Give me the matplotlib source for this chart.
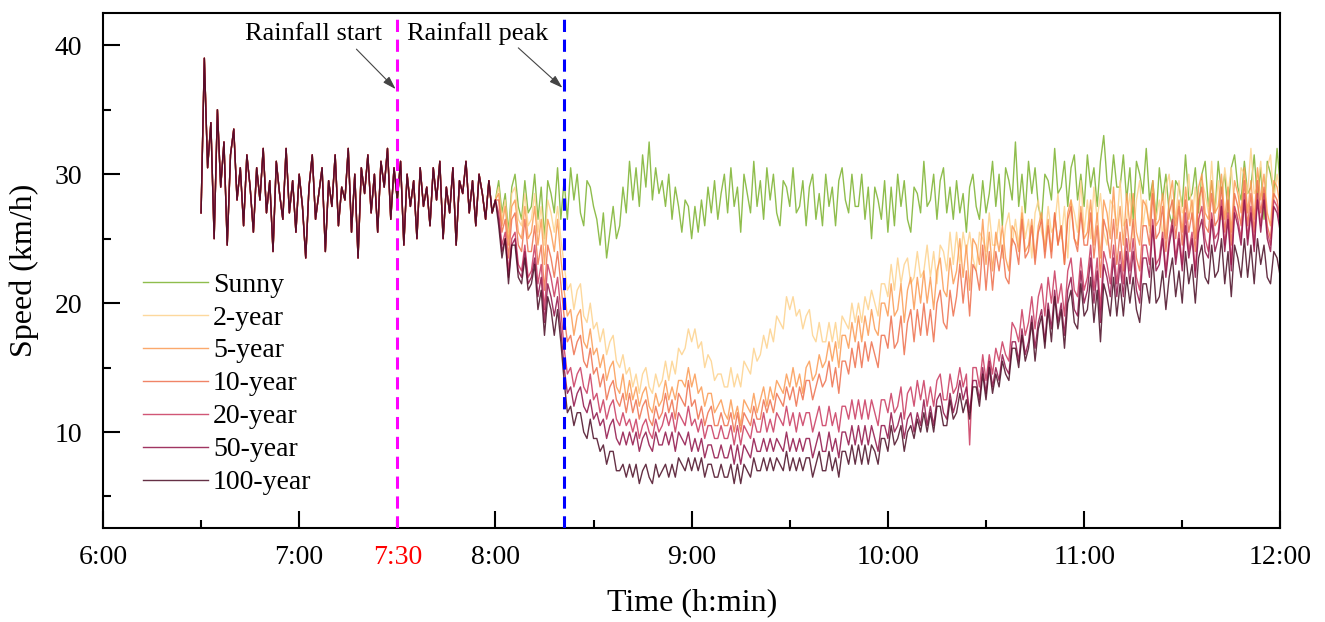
import matplotlib
matplotlib.use("Agg")
import matplotlib.pyplot as plt
import numpy as np

plt.rcParams['font.family'] = ['Liberation Serif', 'DejaVu Serif']

# time in minutes after midnight, one sample per minute
t_before = np.arange(390, 481)   # 6:30 - 8:00, all scenarios alike
t_after = np.arange(481, 721)    # 8:01 - 12:00

speed_before = [27.0, 39.0, 30.5, 34.0, 25.0, 35.0, 29.0, 32.5, 24.5, 31.5,
                33.5, 28.0, 30.5, 26.0, 31.5, 29.0, 25.5, 30.5, 28.0, 32.0,
                27.0, 29.5, 24.0, 31.0, 28.5, 26.5, 32.0, 27.0, 29.5, 25.5,
                30.0, 27.5, 23.5, 29.0, 31.5, 26.5, 28.5, 30.5, 24.0, 29.5,
                27.5, 31.5, 26.0, 29.0, 28.0, 32.0, 25.5, 30.0, 23.5, 30.5,
                28.5, 31.5, 27.0, 30.0, 25.5, 31.0, 29.0, 32.0, 26.5, 30.5,
                28.0, 31.0, 24.5, 30.0, 27.5, 29.5, 25.0, 30.5, 27.5, 29.0,
                26.0, 30.5, 28.0, 31.0, 25.0, 29.0, 27.0, 30.5, 24.5, 29.5,
                28.5, 31.0, 27.0, 29.5, 26.0, 30.0, 28.5, 26.5, 29.5, 27.0,
                28.0]

sunny = [29.5, 27.0, 28.5, 25.5, 29.0, 30.0, 27.5, 26.5, 29.5, 27.0,
         27.5, 30.0, 26.5, 29.0, 25.0, 29.5, 28.5, 27.0, 30.5, 26.5,
         29.5, 26.5, 30.5, 28.0, 30.0, 27.0, 26.0, 29.5, 29.0, 27.5,
         26.5, 24.5, 27.0, 23.5, 25.5, 27.5, 25.0, 26.0, 29.0, 27.0,
         31.0, 28.0, 30.5, 27.5, 31.5, 29.0, 32.5, 28.0, 30.5, 28.5,
         29.5, 27.5, 30.0, 26.5, 29.0, 27.5, 25.5, 28.0, 27.5, 25.0,
         27.5, 25.5, 28.0, 26.0, 29.0, 27.0, 29.5, 26.5, 28.5, 30.0,
         27.0, 30.5, 27.5, 29.0, 25.5, 30.0, 28.5, 27.0, 31.0, 27.5,
         29.5, 26.5, 30.5, 28.0, 30.0, 27.0, 26.0, 29.5, 29.0, 27.5,
         30.5, 27.0, 27.5, 29.5, 26.0, 29.0, 30.0, 26.5, 28.5, 26.0,
         30.0, 27.5, 29.0, 26.0, 29.5, 30.5, 28.0, 27.0, 30.0, 27.5,
         27.5, 30.0, 26.5, 29.0, 25.0, 29.0, 28.0, 26.5, 29.5, 25.5,
         29.0, 26.0, 30.0, 27.5, 29.5, 26.5, 25.5, 29.0, 28.5, 27.0,
         31.0, 27.5, 28.0, 30.0, 26.5, 29.5, 30.5, 27.0, 29.0, 26.5,
         29.5, 27.0, 28.5, 25.5, 29.0, 30.0, 27.5, 26.5, 29.5, 27.0,
         28.5, 31.0, 27.5, 30.0, 26.0, 30.5, 29.5, 28.0, 32.5, 27.5,
         30.0, 27.0, 31.0, 28.5, 30.5, 27.5, 26.5, 30.0, 29.5, 28.0,
         32.0, 28.5, 29.0, 31.0, 27.5, 30.5, 31.5, 28.0, 30.0, 27.5,
         31.5, 29.0, 30.5, 27.5, 31.0, 33.0, 29.5, 28.5, 31.5, 29.0,
         29.0, 31.5, 28.0, 30.5, 26.5, 31.0, 30.0, 28.5, 32.0, 28.0,
         29.5, 26.5, 30.5, 28.0, 30.0, 27.0, 26.0, 29.5, 29.0, 27.5,
         31.5, 28.0, 28.5, 30.5, 27.0, 30.0, 31.0, 27.5, 29.5, 27.0,
         31.0, 28.5, 30.0, 27.0, 30.5, 31.5, 29.0, 28.0, 31.0, 28.5,
         29.0, 31.5, 28.0, 30.5, 26.5, 31.0, 30.0, 28.5, 32.0, 29.0]

year2 = [29.0, 26.5, 28.0, 25.0, 28.5, 29.0, 26.5, 26.0, 28.5, 26.0,
         26.5, 28.5, 25.5, 27.5, 24.5, 28.0, 27.0, 25.5, 27.5, 25.0,
         23.0, 21.0, 21.5, 19.5, 21.0, 21.5, 19.0, 18.5, 20.0, 18.0,
         18.5, 17.0, 18.0, 16.0, 17.0, 17.5, 15.5, 15.0, 16.0, 14.5,
         15.0, 13.5, 14.5, 13.0, 14.5, 15.0, 13.5, 13.0, 14.5, 13.5,
         14.0, 15.5, 14.0, 15.5, 14.5, 16.5, 16.0, 16.5, 18.0, 17.0,
         18.0, 16.5, 17.0, 15.0, 16.0, 15.5, 14.0, 14.5, 14.5, 13.5,
         13.5, 15.0, 13.5, 14.5, 13.5, 15.5, 15.0, 14.5, 16.5, 15.5,
         16.0, 17.5, 16.5, 18.0, 17.0, 19.0, 18.5, 18.0, 20.5, 19.5,
         20.5, 19.0, 19.5, 18.0, 19.0, 19.5, 17.5, 17.0, 18.5, 17.0,
         17.0, 18.5, 17.0, 18.5, 16.5, 19.0, 18.5, 18.0, 20.0, 18.5,
         20.0, 18.5, 20.5, 19.5, 21.0, 20.0, 19.0, 21.5, 21.5, 20.5,
         23.0, 21.0, 23.5, 21.5, 23.0, 23.5, 21.5, 22.0, 24.0, 22.0,
         22.5, 24.5, 22.0, 24.0, 21.5, 24.5, 24.0, 22.5, 25.5, 23.0,
         25.5, 23.0, 25.5, 24.0, 25.5, 23.5, 22.5, 25.5, 25.0, 24.0,
         27.0, 24.5, 24.5, 26.5, 23.5, 26.0, 27.0, 24.5, 26.5, 24.5,
         27.5, 25.0, 26.5, 23.5, 27.0, 28.0, 25.5, 24.5, 27.5, 25.5,
         26.0, 28.5, 25.0, 27.5, 23.5, 28.0, 27.0, 25.5, 29.5, 25.5,
         28.0, 25.0, 29.0, 26.5, 28.5, 25.5, 24.5, 28.0, 27.5, 26.0,
         29.5, 26.0, 26.5, 28.5, 25.0, 28.0, 29.5, 26.0, 28.0, 25.5,
         29.0, 26.5, 28.0, 25.0, 29.0, 30.0, 27.0, 26.5, 29.5, 27.0,
         27.5, 30.0, 26.5, 29.0, 25.5, 29.5, 28.5, 27.0, 31.0, 27.0,
         29.5, 26.5, 30.5, 28.5, 30.5, 27.5, 26.5, 30.5, 30.0, 28.5,
         32.0, 28.5, 29.0, 31.0, 27.5, 30.5, 31.5, 28.0, 30.0, 28.5]

year5 = [28.5, 26.0, 27.5, 24.5, 27.5, 28.0, 25.5, 25.0, 27.5, 25.0,
         25.5, 27.5, 24.5, 26.5, 23.0, 26.5, 25.5, 24.0, 26.5, 23.5,
         21.0, 19.0, 19.5, 17.5, 19.0, 19.5, 17.0, 16.5, 18.0, 16.0,
         16.5, 15.0, 16.0, 14.0, 15.0, 15.5, 13.5, 13.0, 14.5, 12.5,
         14.0, 12.5, 13.5, 12.0, 13.0, 13.5, 12.0, 11.5, 13.0, 12.0,
         12.5, 14.0, 12.5, 13.5, 12.5, 14.0, 14.0, 13.5, 15.0, 13.5,
         14.5, 13.0, 13.5, 12.0, 13.0, 13.0, 11.5, 12.0, 12.5, 11.5,
         11.0, 12.5, 11.0, 12.0, 10.5, 12.5, 12.0, 11.5, 13.0, 11.5,
         12.5, 13.5, 12.0, 13.5, 12.5, 14.0, 13.5, 13.0, 14.5, 13.5,
         15.0, 13.5, 14.5, 13.0, 15.0, 15.5, 14.0, 14.5, 16.0, 15.0,
         15.5, 17.0, 15.5, 17.0, 15.0, 17.5, 17.5, 16.5, 18.5, 17.0,
         19.0, 17.0, 19.0, 17.5, 19.5, 18.0, 17.5, 20.0, 20.0, 19.0,
         21.5, 19.0, 19.5, 21.5, 18.5, 21.0, 22.0, 19.5, 22.0, 20.0,
         22.5, 20.0, 22.0, 19.5, 22.5, 23.5, 21.0, 20.5, 23.5, 21.5,
         22.5, 25.0, 22.0, 24.5, 21.0, 25.0, 24.5, 23.0, 26.5, 23.0,
         25.5, 22.5, 25.5, 24.0, 26.0, 23.5, 22.5, 26.0, 25.5, 24.0,
         27.0, 24.0, 24.5, 26.5, 23.5, 26.0, 27.0, 24.0, 26.5, 24.0,
         27.0, 24.5, 26.0, 23.0, 27.0, 28.0, 25.0, 24.5, 27.5, 25.0,
         25.5, 28.0, 24.5, 27.0, 23.5, 28.0, 27.0, 25.0, 29.0, 25.0,
         27.5, 24.5, 28.5, 26.0, 28.5, 25.5, 24.5, 28.0, 27.5, 26.0,
         29.5, 26.0, 26.5, 28.5, 25.0, 28.0, 29.5, 26.0, 28.0, 25.5,
         29.0, 26.5, 28.0, 25.0, 29.0, 30.0, 27.0, 26.5, 29.5, 27.0,
         27.5, 30.0, 26.5, 29.0, 25.5, 29.5, 28.5, 27.0, 30.5, 27.0,
         29.5, 26.5, 30.5, 28.0, 30.0, 27.0, 26.0, 29.5, 29.0, 27.5]

year10 = [28.0, 25.5, 26.5, 23.5, 26.5, 27.0, 24.5, 24.0, 26.5, 24.0,
          24.0, 26.0, 23.0, 24.5, 21.0, 24.5, 23.5, 22.0, 24.0, 21.5,
          19.0, 17.0, 17.5, 16.0, 17.0, 17.5, 15.5, 15.0, 16.5, 14.5,
          15.0, 13.5, 14.5, 12.5, 13.5, 14.0, 12.5, 12.0, 13.0, 11.5,
          13.0, 11.5, 12.5, 11.0, 12.0, 12.5, 11.0, 10.5, 12.0, 11.0,
          11.5, 13.0, 11.5, 12.5, 11.0, 13.0, 12.5, 12.0, 14.0, 12.0,
          12.5, 11.0, 12.0, 10.5, 11.5, 12.0, 10.5, 10.5, 11.5, 10.5,
          10.5, 11.5, 10.0, 11.5, 10.0, 11.5, 11.0, 10.5, 12.0, 11.0,
          11.0, 12.5, 11.5, 12.5, 11.5, 13.0, 12.5, 12.0, 13.5, 12.5,
          13.5, 12.0, 13.5, 12.5, 14.0, 14.0, 12.5, 13.5, 14.5, 13.5,
          14.0, 15.5, 13.5, 15.0, 13.0, 15.5, 15.5, 14.5, 16.5, 15.0,
          17.0, 15.0, 17.0, 15.5, 17.0, 16.0, 15.0, 17.5, 17.5, 16.5,
          19.0, 16.5, 17.0, 19.0, 16.0, 18.5, 19.5, 17.0, 19.5, 17.5,
          20.0, 17.5, 19.5, 17.0, 20.0, 21.0, 18.5, 18.0, 21.0, 19.0,
          20.5, 23.0, 20.0, 22.5, 19.0, 23.0, 22.5, 21.0, 24.5, 21.0,
          24.0, 21.0, 24.0, 22.5, 24.5, 22.0, 21.5, 25.0, 24.5, 23.0,
          26.5, 23.5, 24.0, 26.0, 23.0, 25.5, 26.5, 23.5, 26.0, 23.5,
          27.0, 24.5, 26.0, 23.0, 26.5, 27.5, 25.0, 24.0, 27.0, 24.5,
          24.5, 27.0, 23.5, 26.0, 22.0, 26.5, 25.5, 23.5, 26.5, 23.0,
          25.5, 22.5, 26.5, 24.0, 26.5, 23.5, 22.5, 26.0, 26.0, 24.5,
          28.5, 25.0, 25.5, 27.5, 24.0, 27.0, 28.0, 25.0, 27.5, 24.5,
          28.0, 25.5, 27.0, 24.0, 28.0, 29.0, 26.0, 25.5, 28.5, 26.0,
          26.5, 29.0, 25.5, 28.0, 24.5, 28.5, 27.5, 26.0, 29.5, 26.0,
          28.5, 25.5, 29.5, 27.0, 29.0, 26.0, 25.0, 28.5, 28.0, 26.5]

year20 = [27.0, 24.5, 25.5, 22.5, 25.0, 25.5, 23.0, 22.5, 24.5, 22.0,
          22.5, 24.5, 21.5, 23.0, 19.5, 23.0, 22.0, 20.5, 22.0, 19.5,
          16.5, 14.5, 15.0, 13.5, 14.5, 15.0, 13.5, 13.0, 14.5, 12.5,
          13.0, 11.5, 12.5, 11.0, 12.0, 12.5, 11.0, 10.5, 11.5, 10.5,
          11.0, 10.0, 11.0, 9.5, 10.5, 11.0, 10.0, 9.5, 11.0, 10.0,
          10.5, 11.5, 10.5, 11.5, 10.0, 11.5, 11.0, 10.5, 12.0, 10.5,
          11.0, 10.0, 11.0, 9.5, 10.5, 10.5, 9.5, 9.5, 10.5, 9.5,
          9.5, 10.5, 9.0, 10.5, 9.0, 10.5, 10.0, 9.5, 11.0, 10.0,
          10.0, 11.5, 10.0, 11.0, 10.0, 11.5, 11.0, 10.5, 12.0, 10.5,
          11.5, 10.0, 11.5, 10.5, 11.5, 11.5, 10.0, 11.0, 12.0, 10.5,
          10.5, 12.0, 10.5, 11.5, 10.0, 12.0, 12.0, 11.0, 12.5, 11.0,
          12.5, 11.0, 12.5, 11.0, 12.5, 11.5, 10.5, 12.5, 12.5, 11.5,
          13.0, 11.5, 12.0, 13.5, 11.0, 13.0, 13.5, 12.0, 14.0, 12.5,
          14.0, 12.0, 13.5, 12.0, 14.0, 14.5, 12.5, 12.5, 14.5, 13.0,
          13.5, 15.0, 13.5, 14.5, 9.0, 15.0, 15.0, 13.5, 16.0, 14.0,
          16.0, 14.5, 16.5, 15.5, 17.0, 16.0, 15.5, 18.5, 18.0, 17.0,
          19.5, 17.5, 18.5, 20.5, 18.0, 20.5, 21.5, 19.0, 22.0, 20.0,
          22.5, 20.0, 21.5, 19.0, 22.5, 23.5, 21.0, 20.5, 23.5, 21.0,
          22.0, 24.5, 21.0, 23.5, 19.5, 24.0, 23.0, 21.5, 24.5, 21.5,
          24.0, 21.5, 25.0, 22.5, 25.0, 22.0, 21.0, 24.5, 24.5, 23.0,
          26.5, 23.0, 23.5, 25.5, 22.5, 25.0, 26.5, 23.5, 25.5, 23.0,
          27.0, 24.0, 25.5, 22.5, 26.5, 27.5, 25.0, 24.0, 27.0, 25.0,
          25.5, 28.0, 24.5, 27.0, 23.0, 27.5, 26.5, 25.0, 28.5, 25.0,
          27.5, 24.5, 28.5, 26.0, 28.5, 25.5, 24.5, 28.0, 27.5, 26.0]

year50 = [26.5, 24.0, 25.0, 22.0, 24.5, 25.0, 22.5, 22.0, 24.0, 21.5,
          22.0, 23.5, 20.5, 22.0, 18.5, 21.5, 20.5, 19.0, 20.5, 18.0,
          15.0, 13.0, 13.5, 12.0, 13.0, 13.5, 12.0, 11.5, 12.5, 11.0,
          11.5, 10.5, 11.0, 9.5, 10.5, 11.0, 9.5, 9.0, 10.0, 9.0,
          10.0, 9.0, 10.0, 8.5, 9.5, 10.0, 9.0, 8.5, 10.0, 9.0,
          9.0, 10.0, 9.0, 10.0, 8.5, 10.0, 9.5, 9.0, 10.0, 8.5,
          9.5, 8.5, 9.5, 8.0, 9.0, 9.0, 8.0, 8.0, 9.0, 8.0,
          8.0, 9.0, 7.5, 9.0, 7.5, 9.0, 8.5, 8.0, 9.5, 8.5,
          8.5, 9.5, 8.5, 9.5, 8.5, 9.5, 9.0, 8.5, 10.0, 8.5,
          9.5, 8.5, 9.5, 8.5, 9.5, 9.5, 8.0, 9.0, 10.0, 8.5,
          8.5, 10.0, 8.5, 9.5, 8.0, 10.0, 10.0, 9.0, 10.5, 9.0,
          10.5, 9.0, 10.5, 9.0, 10.5, 9.5, 8.5, 10.5, 10.5, 9.5,
          11.5, 10.0, 10.5, 11.5, 9.5, 11.0, 11.5, 10.0, 11.5, 10.5,
          12.5, 10.5, 12.0, 10.5, 12.5, 13.0, 11.5, 11.0, 13.0, 11.5,
          12.5, 14.0, 12.5, 13.5, 11.5, 14.0, 14.0, 12.5, 15.0, 13.0,
          15.5, 13.5, 15.0, 14.0, 16.0, 15.0, 14.5, 17.0, 17.0, 15.5,
          18.0, 16.0, 17.0, 19.0, 16.5, 18.5, 19.5, 17.0, 20.0, 18.0,
          21.0, 18.5, 20.0, 17.5, 21.0, 22.0, 19.5, 19.0, 22.5, 20.0,
          21.0, 23.5, 20.0, 22.5, 18.5, 23.0, 22.0, 20.5, 23.5, 20.5,
          23.0, 20.5, 24.0, 21.5, 24.0, 21.0, 20.0, 23.5, 23.5, 22.0,
          26.0, 22.5, 23.0, 25.0, 22.0, 24.5, 26.0, 23.0, 25.0, 22.5,
          26.0, 23.5, 25.0, 22.0, 25.5, 26.5, 24.0, 23.5, 26.5, 24.0,
          25.0, 27.5, 24.0, 26.5, 22.5, 27.0, 26.0, 24.5, 28.0, 24.5,
          27.0, 24.0, 28.0, 25.5, 28.0, 25.0, 24.0, 27.5, 27.0, 25.5]

year100 = [26.0, 23.5, 25.0, 21.5, 24.5, 24.5, 22.0, 21.5, 23.5, 21.0,
           21.5, 23.0, 19.5, 21.0, 17.5, 20.5, 19.5, 17.5, 19.5, 17.0,
           14.0, 11.5, 12.0, 10.5, 11.5, 11.5, 10.0, 9.5, 11.0, 9.5,
           9.5, 8.5, 9.0, 7.5, 8.5, 8.5, 7.0, 7.0, 7.5, 6.5,
           7.5, 6.5, 7.5, 6.0, 7.0, 7.5, 6.5, 6.0, 7.5, 6.5,
           7.0, 7.5, 6.5, 7.5, 6.5, 8.0, 7.5, 7.0, 8.0, 7.0,
           8.0, 7.0, 8.0, 6.5, 7.5, 7.5, 6.5, 6.5, 7.5, 6.5,
           6.5, 7.5, 6.0, 7.5, 6.0, 7.5, 7.0, 6.5, 8.0, 7.0,
           7.0, 8.0, 7.0, 8.0, 7.0, 8.0, 7.5, 7.0, 8.5, 7.0,
           8.0, 7.0, 8.0, 7.0, 8.0, 8.0, 6.5, 7.5, 8.5, 7.0,
           7.0, 8.5, 7.0, 8.0, 6.5, 8.5, 8.5, 7.5, 9.0, 7.5,
           9.0, 7.5, 9.0, 7.5, 9.0, 8.5, 7.5, 9.5, 9.5, 8.5,
           10.5, 9.0, 9.5, 10.5, 8.5, 10.0, 10.5, 9.5, 11.0, 10.0,
           11.5, 10.0, 11.5, 10.0, 12.0, 12.0, 10.5, 10.5, 12.5, 11.0,
           11.5, 13.0, 11.5, 12.5, 11.0, 13.5, 13.5, 12.0, 14.5, 12.5,
           15.0, 13.0, 14.5, 13.5, 15.5, 14.5, 14.0, 16.5, 16.5, 15.0,
           17.5, 15.5, 16.5, 18.5, 15.5, 18.0, 19.0, 16.5, 19.5, 17.0,
           20.5, 18.0, 19.5, 16.5, 20.0, 21.0, 18.5, 18.0, 21.5, 19.0,
           19.5, 22.0, 18.5, 21.0, 17.0, 21.5, 20.5, 19.0, 22.0, 19.0,
           21.5, 19.0, 22.0, 20.0, 22.0, 19.5, 18.5, 21.5, 21.5, 20.0,
           23.5, 20.0, 20.5, 22.5, 19.5, 22.0, 23.5, 20.5, 22.5, 20.0,
           24.0, 21.5, 23.0, 20.0, 23.5, 24.5, 22.0, 21.5, 24.5, 22.0,
           22.5, 25.0, 21.5, 24.0, 20.5, 24.5, 23.5, 22.0, 25.0, 22.0,
           24.5, 21.5, 25.0, 23.0, 24.5, 22.0, 21.5, 24.0, 23.5, 22.0]

labels = ["Sunny", "2-year", "5-year", "10-year", "20-year", "50-year", "100-year"]
colors = ["#7cb22e", "#fdd28c", "#fb9a52", "#ee6f4c", "#c9385e", "#8f1147", "#4a0c24"]
series = [sunny, year2, year5, year10, year20, year50, year100]

rain_start = 450   # 7:30
rain_peak = 501    # ~8:21

fig = plt.figure(figsize=(13.25, 6.22), dpi=100)
ax = fig.add_axes([0.0777, 0.151, 0.8886, 0.828])

t_all = np.concatenate([t_before, t_after])
for name, col, vals in zip(labels, colors, series):
    y = np.concatenate([speed_before, vals])
    ax.plot(t_all, y, color=col, lw=1.0, alpha=0.85, label=name)

ax.axvline(rain_start, color="#ff00ff", lw=2.2, ls=(0, (4, 2.5)), zorder=5)
ax.axvline(rain_peak, color="#0000ff", lw=2.2, ls=(0, (4, 2.5)), zorder=5)

arrow = dict(arrowstyle="-|>,head_length=0.8,head_width=0.25", color="#444444",
             lw=0.8, shrinkA=0, shrinkB=0)
ax.text(424.5, 40.9, "Rainfall start", ha="center", va="center", fontsize=19)
ax.annotate("", xy=(rain_start - 0.5, 36.6), xytext=(437.5, 39.7), arrowprops=arrow)
ax.text(474.7, 40.9, "Rainfall peak", ha="center", va="center", fontsize=19)
ax.annotate("", xy=(rain_peak - 0.5, 36.7), xytext=(487, 39.8), arrowprops=arrow)

ax.set_xlim(360, 720)
ax.set_ylim(2.55, 42.5)

ax.set_xticks([360, 420, 480, 540, 600, 660, 720])
ax.set_xticklabels(["6:00", "7:00", "8:00", "9:00", "10:00", "11:00", "12:00"])
ax.set_xticks([390, 450, 510, 570, 630, 690], minor=True)
ax.set_xticklabels(["", "7:30", "", "", "", ""], minor=True)
ax.get_xticklabels(minor=True)[1].set_color("red")
ax.set_yticks([10, 20, 30, 40])
ax.set_yticks([5, 15, 25, 35], minor=True)

ax.tick_params(which="both", direction="in", width=1.5, labelsize=20)
ax.tick_params(which="major", length=12)
ax.tick_params(which="minor", length=6)
ax.tick_params(axis="x", which="both", pad=12)
ax.tick_params(axis="y", which="both", pad=15)
for sp in ax.spines.values():
    sp.set_linewidth(1.5)

ax.set_xlabel("Time (h:min)", fontsize=23)
ax.set_ylabel("Speed (km/h)", fontsize=23)
ax.xaxis.set_label_coords(0.5, -0.116)
ax.yaxis.set_label_coords(-0.054, 0.5)

ax.legend(loc="upper left", bbox_to_anchor=(0.034, 0.497), frameon=False, fontsize=20,
          handlelength=2.34, handletextpad=0.18, labelspacing=0.27, borderpad=0,
          borderaxespad=0)

fig.savefig("out.png", dpi=100)
